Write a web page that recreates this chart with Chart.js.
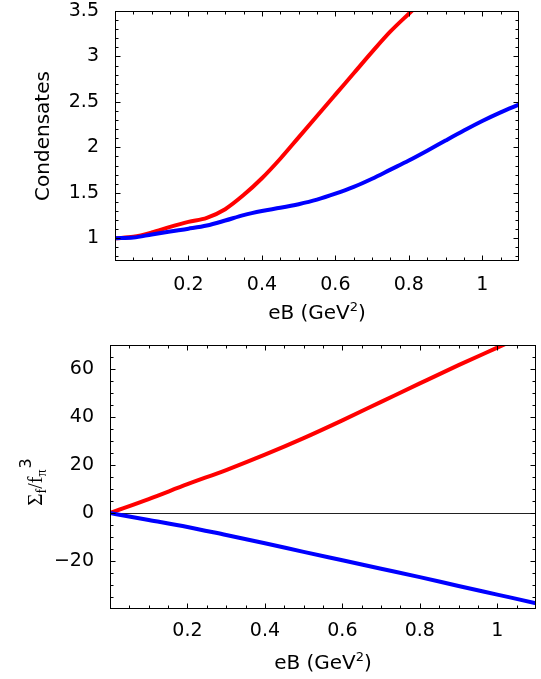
<!DOCTYPE html>
<html lang="en">
<head>
<meta charset="UTF-8">
<title>Condensates vs eB</title>
<script src="https://cdn.jsdelivr.net/npm/chart.js"></script>
<style>
  body { margin: 0; background: #fff; }
  .panel { position: absolute; left: 0; }
  #top { top: 0; }
  #bottom { top: 330px; }
</style>
</head>
<body>
<canvas id="top" class="panel" width="541" height="330"></canvas>
<canvas id="bottom" class="panel" width="541" height="349"></canvas>
<script>
// upper panel: condensates (normalised)
const topRedX  = [0, 0.05, 0.1, 0.15, 0.2, 0.25, 0.3, 0.35, 0.4, 0.45, 0.5, 0.55, 0.6, 0.65, 0.7, 0.75, 0.8, 0.85];
const topRedY  = [1.0, 1.016, 1.063, 1.125, 1.18, 1.225, 1.32, 1.475, 1.66, 1.875, 2.11, 2.345, 2.58, 2.815, 3.05, 3.275, 3.47, 3.66];
const topBlueX = [0, 0.05, 0.1, 0.15, 0.2, 0.25, 0.3, 0.35, 0.4, 0.45, 0.5, 0.55, 0.6, 0.65, 0.7, 0.75, 0.8, 0.85, 0.9, 0.95, 1.0, 1.05, 1.1];
const topBlueY = [1.0, 1.008, 1.042, 1.075, 1.105, 1.14, 1.195, 1.255, 1.30, 1.335, 1.375, 1.425, 1.49, 1.565, 1.655, 1.755, 1.855, 1.963, 2.075, 2.185, 2.29, 2.385, 2.47];

// lower panel: Sigma_f / f_pi^3
const botX     = [0, 0.1, 0.2, 0.3, 0.4, 0.5, 0.6, 0.7, 0.8, 0.9, 1.0, 1.1];
const botRedY  = [0, 5.8, 12.0, 17.9, 24.3, 31.2, 38.6, 46.3, 54.0, 61.6, 68.9, 76.2];
const botBlueY = [0, -2.9, -5.8, -9.2, -12.6, -16.2, -19.7, -23.2, -26.7, -30.4, -34.0, -37.6];

// tick labels
const xTicks    = [0.2, 0.4, 0.6, 0.8, 1];
const topYTicks = [1, 1.5, 2, 2.5, 3, 3.5];
const botYTicks = [-20, 0, 20, 40, 60];

const tickFont = { family: 'DejaVu Sans', size: 19 };
const RED = '#ff0000', BLUE = '#0000ff';

function pts(xs, ys) { return xs.map((x, i) => ({ x: x, y: ys[i] })); }
function label(v) { return String(v).replace('-', '\u2212'); }

// steps along an axis, integer based so floats don't drift
function steps(min, max, step) {
  const out = [];
  for (let i = Math.ceil(min / step - 1e-9); i * step <= max + 1e-9; i++) out.push(i * step);
  return out;
}
function isMajor(v, major) { return Math.abs(v / major - Math.round(v / major)) < 1e-6; }

// frame with inward ticks on all four sides, plus optional zero axis
const framePlugin = {
  id: 'frame',
  beforeDatasetsDraw(chart, args, opts) {
    if (!opts.zeroLine) return;
    const { ctx, chartArea: a, scales: { y } } = chart;
    const py = Math.round(y.getPixelForValue(0)) + 0.5;
    ctx.save();
    ctx.strokeStyle = '#222';
    ctx.lineWidth = 1.2;
    ctx.beginPath();
    ctx.moveTo(a.left, py);
    ctx.lineTo(a.right, py);
    ctx.stroke();
    ctx.restore();
  },
  afterDraw(chart, args, opts) {
    const { ctx, chartArea: a, scales: { x, y } } = chart;
    const L = Math.round(a.left) + 0.5, R = Math.round(a.right) - 0.5;
    const T = Math.round(a.top) + 0.5, B = Math.round(a.bottom) - 0.5;
    ctx.save();
    ctx.strokeStyle = '#000';
    ctx.lineWidth = 1;
    ctx.strokeRect(L, T, R - L, B - T);
    ctx.beginPath();
    steps(x.min, x.max, opts.xMinor).forEach(v => {
      const px = Math.round(x.getPixelForValue(v)) + 0.5;
      if (px <= L + 1 || px >= R - 1) return;
      const len = isMajor(v, opts.xMajor) ? 5 : 3;
      ctx.moveTo(px, B); ctx.lineTo(px, B - len);
      ctx.moveTo(px, T); ctx.lineTo(px, T + len);
    });
    steps(y.min, y.max, opts.yMinor).forEach(v => {
      const py = Math.round(y.getPixelForValue(v)) + 0.5;
      if (py <= T + 1 || py >= B - 1) return;
      const len = isMajor(v, opts.yMajor) ? 5 : 3;
      ctx.moveTo(L, py); ctx.lineTo(L + len, py);
      ctx.moveTo(R, py); ctx.lineTo(R - len, py);
    });
    ctx.stroke();
    ctx.restore();
  }
};

// axis titles with sub/superscripts
function richWidth(ctx, parts) {
  let w = 0;
  parts.forEach(p => { ctx.font = p[1]; w += ctx.measureText(p[0]).width + (p[3] || 0); });
  return w;
}
function drawRich(ctx, parts, cx, baseline) {
  let x = cx - richWidth(ctx, parts) / 2;
  parts.forEach(p => {
    ctx.font = p[1];
    ctx.fillText(p[0], x, baseline + (p[2] || 0));
    x += ctx.measureText(p[0]).width + (p[3] || 0);
  });
}
const titlePlugin = {
  id: 'titles',
  afterDraw(chart, args, opts) {
    const { ctx, chartArea: a } = chart;
    ctx.save();
    ctx.fillStyle = '#000';
    ctx.textBaseline = 'alphabetic';
    drawRich(ctx, opts.xParts, (a.left + a.right) / 2, opts.xBase);
    ctx.translate(opts.yBase, opts.yCenter != null ? opts.yCenter : (a.top + a.bottom) / 2);
    ctx.rotate(-Math.PI / 2);
    drawRich(ctx, opts.yParts, 0, 0);
    ctx.restore();
  }
};

const eBTitle = [
  ['eB (GeV', '20px "DejaVu Sans"'],
  ['2', '13px "DejaVu Sans"', -8],
  [')', '20px "DejaVu Sans"']
];

function axis(min, max, ticks, size, pad, isX) {
  return {
    type: 'linear', min: min, max: max,
    grid: { display: false }, border: { display: false },
    ticks: { font: tickFont, color: '#000', padding: pad, autoSkip: false, maxRotation: 0, callback: label },
    afterBuildTicks: s => { s.ticks = ticks.map(v => ({ value: v })); },
    afterFit: s => {
      if (isX) s.height = size; else s.width = size;
      s.paddingLeft = s.paddingRight = s.paddingTop = s.paddingBottom = 0;
    }
  };
}

function line(data, color, order) {
  return { data: data, borderColor: color, borderWidth: 4, pointRadius: 0, fill: false,
           cubicInterpolationMode: 'monotone', clip: 0, order: order };
}

function baseOptions(padding, scales, frame, titles) {
  return {
    responsive: false, animation: false, devicePixelRatio: 1,
    layout: { padding: padding },
    scales: scales,
    plugins: { legend: { display: false }, tooltip: { enabled: false }, frame: frame, titles: titles }
  };
}

new Chart(document.getElementById('top'), {
  type: 'line',
  data: { datasets: [
    line(pts(topRedX, topRedY), RED, 1),
    line(pts(topBlueX, topBlueY), BLUE, 0)
  ] },
  options: baseOptions(
    { top: 11, right: 22, left: 0, bottom: 0 },
    { x: axis(0, 1.1, xTicks, 69, 5, true), y: axis(0.75, 3.5, topYTicks, 115, 8, false) },
    { xMinor: 0.05, xMajor: 0.2, yMinor: 0.1, yMajor: 0.5 },
    { xParts: eBTitle, xBase: 319, yBase: 49, yParts: [['Condensates', '20px "DejaVu Sans"']] }
  ),
  plugins: [framePlugin, titlePlugin]
});

new Chart(document.getElementById('bottom'), {
  type: 'line',
  data: { datasets: [
    line(pts(botX, botRedY), RED, 1),
    line(pts(botX, botBlueY), BLUE, 0)
  ] },
  options: baseOptions(
    { top: 15, right: 5, left: 0, bottom: 0 },
    { x: axis(0, 1.1, xTicks, 70, 3, true), y: axis(-40, 70, botYTicks, 110, 8, false) },
    { xMinor: 0.05, xMajor: 0.2, yMinor: 5, yMajor: 20, zeroLine: true },
    { xParts: eBTitle, xBase: 339, yBase: 42, yCenter: 152, yParts: [
      ['\u03A3', '21px "Liberation Serif"'],
      ['f', '14px "Liberation Serif"', 4],
      ['/f', '20px "Liberation Serif"'],
      ['\u03C0', '14px "Liberation Serif"', 4, 1],
      ['3', '16px "DejaVu Sans"', -11]
    ] }
  ),
  plugins: [framePlugin, titlePlugin]
});
</script>
</body>
</html>
